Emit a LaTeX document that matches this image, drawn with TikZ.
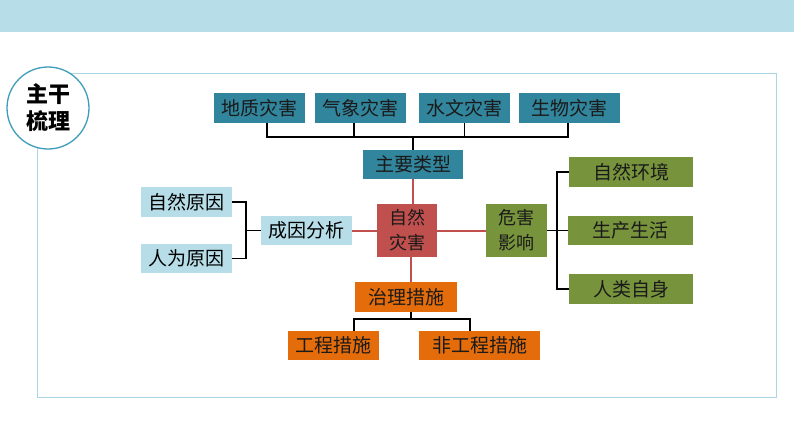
\documentclass[tikz,border=0pt]{standalone}
\usepackage{fontspec}
\newfontfamily\cjk{Noto Sans CJK SC}
\definecolor{bandc}{HTML}{B7DEE8}
\definecolor{framec}{HTML}{A9D6E2}
\definecolor{circc}{HTML}{3E9DB8}
\definecolor{tealc}{HTML}{31859C}
\definecolor{lbluec}{HTML}{B7DDE8}
\definecolor{redc}{HTML}{C0504D}
\definecolor{greenc}{HTML}{77933C}
\definecolor{orangec}{HTML}{E46C0A}
\definecolor{txtc}{HTML}{1A1A1A}
\tikzset{
  boxbase/.style={rectangle, inner sep=0pt, font=\cjk\fontsize{19}{25}\selectfont, text=txtc, align=center},
  tealbox/.style={boxbase, fill=tealc, minimum height=30pt},
  lbluebox/.style={boxbase, fill=lbluec, minimum height=29.5pt, text=black},
  redbox/.style={boxbase, fill=redc, minimum width=60pt, minimum height=53pt, font=\cjk\fontsize{18}{25}\selectfont},
  greenbox/.style={boxbase, fill=greenc, minimum height=29.5pt},
  orangebox/.style={boxbase, fill=orangec, minimum height=29.5pt},
  blk/.style={draw=black, line width=1.8pt},
  redln/.style={draw=redc, line width=2pt},
}
\begin{document}
\begin{tikzpicture}[x=1pt,y=-1pt]
\useasboundingbox (0,0) rectangle (794,447);
\fill[bandc] (0,0) rectangle (794,32);
\draw[framec, line width=1pt] (37,73) rectangle (776,397);
\node[circle, draw=circc, fill=white, line width=1.3pt, minimum size=82pt, inner sep=0pt,
  font=\cjk\bfseries\fontsize{22}{27}\selectfont, align=center] (title) at (48,108) {主干\\梳理};

% top types
\node[tealbox, minimum width=91pt] (dz) at (259.5,108) {地质灾害};
\node[tealbox, minimum width=91pt] (qx) at (360.5,108) {气象灾害};
\node[tealbox, minimum width=91pt] (sw) at (464.5,108) {水文灾害};
\node[tealbox, minimum width=101pt] (sb) at (569.5,108) {生物灾害};
\node[tealbox, minimum width=100pt, minimum height=29pt] (zy) at (413,164.5) {主要类型};

% centre
\node[redbox] (zr) at (407,230.5) {自然\\灾害};

% causes
\node[lbluebox, minimum width=91pt] (cy) at (306.5,230.5) {成因分析};
\node[lbluebox, minimum width=91pt] (zryy) at (186.5,202) {自然原因};
\node[lbluebox, minimum width=91pt] (rwyy) at (186.5,258.5) {人为原因};

% impacts
\node[greenbox, minimum width=61pt, minimum height=53pt, font=\cjk\fontsize{18}{25}\selectfont] (wh) at (516.5,230.5) {危害\\影响};
\node[greenbox, minimum width=124pt] (hj) at (631,172) {自然环境};
\node[greenbox, minimum width=125pt] (sc) at (630.5,230.5) {生产生活};
\node[greenbox, minimum width=124pt] (rl) at (631,289) {人类自身};

% measures
\node[orangebox, minimum width=102pt] (zl) at (406,297) {治理措施};
\node[orangebox, minimum width=91pt] (gc) at (333.5,345.5) {工程措施};
\node[orangebox, minimum width=121pt] (fgc) at (479.5,345.5) {非工程措施};

% bus coordinates
\coordinate (tbus) at (413,137);
\coordinate (lbus) at (246,230.5);
\coordinate (rbus) at (557,230.5);
\coordinate (bbus) at (411,319);

% top bracket
\draw[blk] ([xshift=7.5pt]dz.south) |- (tbus) -| ([xshift=-1.5pt]sb.south);
\draw[blk] ([xshift=-6.5pt]qx.south) -- ([xshift=-6.5pt]qx.south |- tbus);
\draw[blk] (sw.south) -- (sw.south |- tbus);
\draw[blk] (zy.north) -- (tbus);

% left bracket
\draw[blk] (zryy.east) -| (lbus) |- (rwyy.east);
\draw[blk] (lbus) -- (cy.west);

% right bracket
\draw[blk] (wh.east) -- (sc.west);
\draw[blk] (hj.west) -| (rbus) |- (rl.west);

% bottom bracket
\draw[blk] (bbus |- zl.south) -- (bbus);
\draw[blk] ([xshift=20.5pt]gc.north) |- (bbus) -| ([xshift=-9.5pt]fgc.north);

% red connectors
\draw[redln] (zy.south) -- (zy.south |- zr.north);
\draw[redln] (cy.east) -- (zr.west);
\draw[redln] (zr.east) -- (wh.west);
\draw[redln] (zr.south -| bbus) -- (bbus |- zl.north);
\end{tikzpicture}
\end{document}
